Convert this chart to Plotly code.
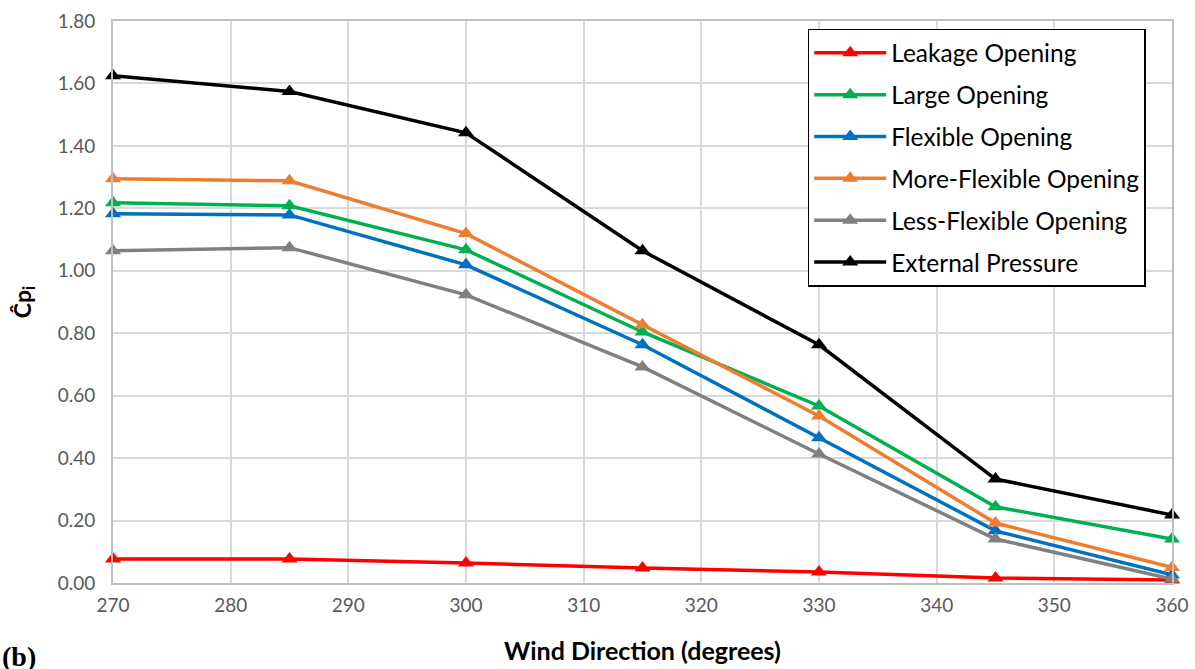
import plotly.graph_objects as go

wind_direction = [270, 285, 300, 315, 330, 345, 360]

leakage = [0.077, 0.077, 0.064, 0.048, 0.035, 0.016, 0.010]
large = [1.218, 1.208, 1.067, 0.804, 0.567, 0.244, 0.141]
flexible = [1.183, 1.179, 1.019, 0.763, 0.465, 0.167, 0.026]
more_flexible = [1.295, 1.288, 1.119, 0.827, 0.535, 0.192, 0.050]
less_flexible = [1.064, 1.074, 0.923, 0.692, 0.413, 0.141, 0.013]
external = [1.625, 1.574, 1.442, 1.064, 0.763, 0.333, 0.218]

series = [
    ("Leakage Opening", leakage, "#ff0000"),
    ("Large Opening", large, "#00b050"),
    ("Flexible Opening", flexible, "#0070c0"),
    ("More-Flexible Opening", more_flexible, "#ed7d31"),
    ("Less-Flexible Opening", less_flexible, "#808080"),
    ("External Pressure", external, "#000000"),
]

x_ticks = list(range(270, 361, 10))
y_ticks = [i / 5 for i in range(10)]
y_ticktext = [f"{v:.2f}" for v in y_ticks]

fig = go.Figure()
for i, (name, vals, col) in enumerate(series):
    fig.add_trace(go.Scatter(
        x=wind_direction, y=vals, name=name, mode="lines+markers",
        line=dict(color=col, width=3.5),
        marker=dict(symbol="triangle-up", size=14, color=col),
        cliponaxis=False, legendgroup=f"g{i}",
    ))

font_main = "Lato, 'Open Sans', sans-serif"
fig.update_layout(
    width=1195, height=669,
    margin=dict(l=113, r=23, t=21, b=86),
    plot_bgcolor="white", paper_bgcolor="white",
    font=dict(family=font_main, color="#595959"),
    showlegend=True,
    legend=dict(
        x=0.656, y=0.986, xanchor="left", yanchor="top",
        bgcolor="white", bordercolor="black", borderwidth=1.5,
        font=dict(size=24.5, color="black", family=font_main),
        tracegroupgap=7, itemwidth=72,
    ),
    xaxis=dict(
        range=[270, 360], tickvals=x_ticks, automargin=False,
        showgrid=True, gridcolor="#d9d9d9", gridwidth=2,
        showline=True, linecolor="#bfbfbf", linewidth=2, mirror=True,
        ticks="outside", ticklen=4, tickcolor="rgba(0,0,0,0)",
        tickfont=dict(size=19, color="#595959"),
        title=dict(text="<b>Wind Direction (degrees)</b>", font=dict(size=25, color="black"), standoff=28),
        zeroline=False,
    ),
    yaxis=dict(
        range=[0, 1.8], tickvals=y_ticks, ticktext=y_ticktext, automargin=False,
        showgrid=True, gridcolor="#d9d9d9", gridwidth=2,
        showline=True, linecolor="#bfbfbf", linewidth=2, mirror=True,
        ticks="outside", ticklen=12, tickcolor="rgba(0,0,0,0)",
        tickfont=dict(size=19, color="#595959"),
        title=dict(text="<b>Ĉp<sub>i</sub></b>", font=dict(size=23, color="black"), standoff=20),
        zeroline=False,
    ),
    annotations=[dict(
        text="<b>(b)</b>", xref="paper", yref="paper", x=-0.107, y=-0.1,
        xanchor="left", yanchor="top", showarrow=False,
        font=dict(family="'Liberation Serif', 'Times New Roman', serif", size=28, color="black"),
    )],
)

fig.write_html("out.html")
